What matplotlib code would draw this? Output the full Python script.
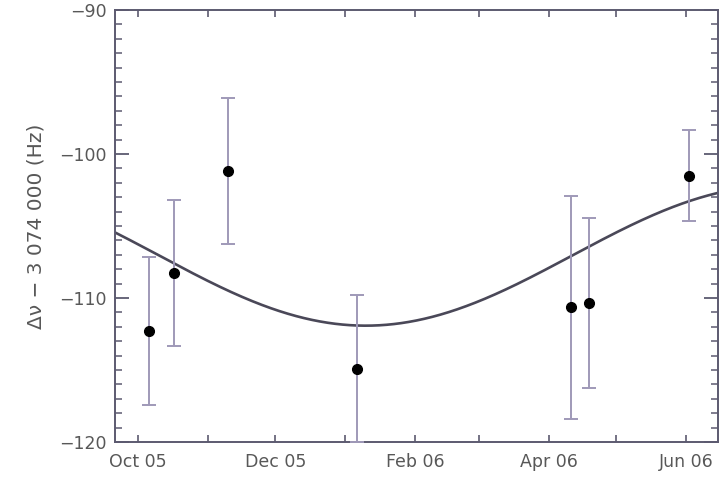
import numpy as np
import pandas as pd
import matplotlib
matplotlib.use("Agg")
import matplotlib.pyplot as plt
import matplotlib.dates as mdates
from matplotlib.ticker import MultipleLocator

# ---- data ----
obs_dates = ["2005-10-06", "2005-10-17", "2005-11-10", "2006-01-06",
             "2006-04-11", "2006-04-19", "2006-06-02"]
obs_values = [-112.3, -108.25, -101.15, -114.9, -110.65, -110.35, -101.5]
obs_errors = [5.15, 5.05, 5.07, 5.13, 7.75, 5.9, 3.15]

# annual sinusoidal model curve parameters
model_offset = -107.06      # Hz
model_amplitude = 4.86      # Hz
model_period_days = 365.25
model_min_date = "2006-01-10"

x_start, x_end = "2005-09-21", "2006-06-15"
y_min, y_max = -120, -90
tick_dates = ["2005-10-01", "2005-12-01", "2006-02-01", "2006-04-01", "2006-06-01"]
tick_labels = ["Oct 05", "Dec 05", "Feb 06", "Apr 06", "Jun 06"]
ylabel = "Δν − 3 074 000 (Hz)"

# ---- styling ----
plt.rcParams['font.family'] = ['DejaVu Sans']
text_col = "#585858"
axis_col = "#5c5a70"
err_col = "#9f99b8"
curve_col = "#4a4858"

fig = plt.figure(figsize=(7.25, 4.79), dpi=100)
ax = fig.add_axes([0.1586, 0.0772, 0.8317, 0.9019])

dates = pd.to_datetime(obs_dates)
ax.errorbar(dates, obs_values, yerr=obs_errors, fmt='o', color='black',
            ecolor=err_col, elinewidth=1.4, capsize=5, capthick=1.4,
            markersize=7, zorder=3)

t = pd.date_range(x_start, x_end, freq="6h")
tm = pd.Timestamp(model_min_date)
dt = (t - tm).total_seconds() / 86400.0
model = model_offset - model_amplitude * np.cos(2 * np.pi * np.asarray(dt) / model_period_days)
ax.plot(t, model, color=curve_col, lw=1.9, zorder=2)

ax.set_xlim(pd.Timestamp(x_start), pd.Timestamp(x_end))
ax.set_ylim(y_min, y_max)

ax.set_xticks(pd.to_datetime(tick_dates))
ax.set_xticklabels(tick_labels)
ax.xaxis.set_minor_locator(mdates.MonthLocator())
ax.yaxis.set_major_locator(MultipleLocator(10))
ax.yaxis.set_minor_locator(MultipleLocator(1))
ax.set_yticklabels([f"−{abs(int(v))}" for v in ax.get_yticks()])

ax.tick_params(axis='both', which='both', direction='in', top=True, right=True,
               colors=axis_col, labelcolor=text_col, labelsize=12.5)
ax.tick_params(axis='y', which='major', length=10, width=1.3, pad=6)
ax.tick_params(axis='y', which='minor', length=5, width=1.1)
ax.tick_params(axis='x', which='major', length=5, width=1.2, pad=8)
ax.tick_params(axis='x', which='minor', length=5, width=1.2)
for s in ax.spines.values():
    s.set_color(axis_col)
    s.set_linewidth(1.4)

ax.set_ylabel(ylabel, color=text_col, fontsize=14.5, labelpad=10)

fig.savefig("out.png", dpi=100, facecolor="white")
